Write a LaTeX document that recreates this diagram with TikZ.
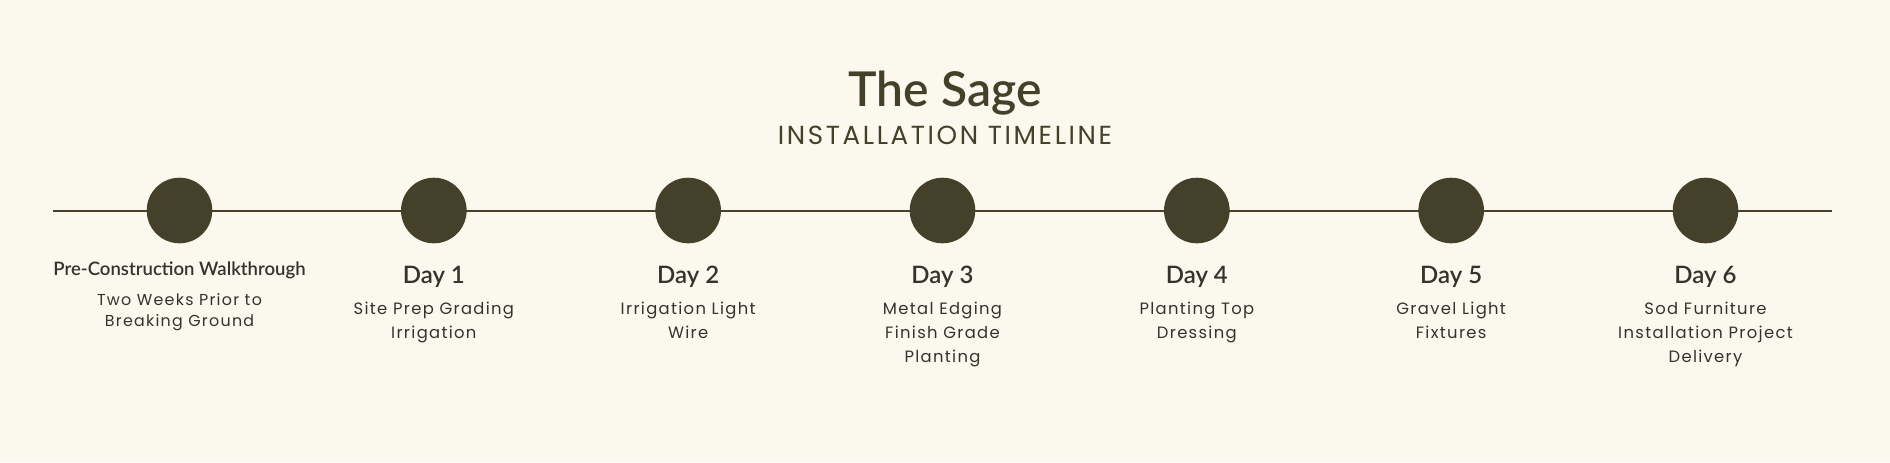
\documentclass[tikz,border=0pt]{standalone}
\usepackage{fontspec}
\usepackage{xcolor}
\usepackage{tikz}
\usetikzlibrary{positioning}

\IfFontExistsTF{Lato Semibold}{\newfontfamily\headfont{Lato Semibold}}{\newfontfamily\headfont{Lato}[UprightFeatures={FakeBold=0.8}]}
\newfontfamily\bodyfont{Poppins}[LetterSpace=8]
\newfontfamily\capsfont{Poppins}[LetterSpace=10]

\definecolor{sagebg}{HTML}{FBF9EE}
\definecolor{sagedark}{HTML}{45402A}
\definecolor{sageink}{HTML}{35332B}

\begin{document}
\begin{tikzpicture}[
    x=0.75pt, y=-0.75pt,
    dot/.style={circle, fill=sagedark, minimum size=49.2pt, inner sep=0pt},
    dayhead/.style={font=\headfont\fontsize{18}{21}\selectfont, text=sageink, inner sep=0pt},
    daytext/.style={font=\bodyfont\fontsize{12.3}{18}\selectfont, text=sageink, align=center, inner sep=0pt},
    timeline/.style={draw=sagedark, line width=1.5pt},
]
\useasboundingbox[fill=sagebg] (0,0) rectangle (1890,462);
\node[font=\headfont\fontsize{36}{40}\selectfont, text=sagedark, inner sep=0pt, anchor=base] (title) at (945,106.7) {The Sage};
\node[font=\capsfont\fontsize{19.6}{22}\selectfont, text=sagedark, inner sep=0pt, below=28.7pt of title.base, anchor=base] (subtitle) {INSTALLATION TIMELINE};
\coordinate (lineL) at (53,211);
\coordinate (lineR) at (1832,211);
\draw[timeline] (lineL) -- (lineR);
\node[dot] (walk) at (179.5,210.5) {};
\node[dot, right=141.15pt of walk] (d1) {};
\node[dot, right=141.15pt of d1] (d2) {};
\node[dot, right=141.15pt of d2] (d3) {};
\node[dot, right=141.15pt of d3] (d4) {};
\node[dot, right=141.15pt of d4] (d5) {};
\node[dot, right=141.15pt of d5] (d6) {};
% multi-line nodes sit on their last line, hence the longer distances
\node[dayhead, font=\headfont\fontsize{13.9}{16}\selectfont, below=23.8pt of walk.south, anchor=base] (walkhead) {Pre-Construction Walkthrough};
\node[daytext, font=\bodyfont\fontsize{11.9}{15.2}\selectfont, below=38.2pt of walkhead.base, anchor=base] (walktext) {Two Weeks Prior to\\Breaking Ground};
\node[dayhead, below=29.8pt of d1.south, anchor=base] (d1head) {Day 1};
\node[daytext, below=41.25pt of d1head.base, anchor=base] (d1text) {Site Prep Grading\\Irrigation};
\node[dayhead, below=29.8pt of d2.south, anchor=base] (d2head) {Day 2};
\node[daytext, below=41.25pt of d2head.base, anchor=base] (d2text) {Irrigation Light\\Wire};
\node[dayhead, below=29.8pt of d3.south, anchor=base] (d3head) {Day 3};
\node[daytext, below=59.25pt of d3head.base, anchor=base] (d3text) {Metal Edging\\Finish Grade\\Planting};
\node[dayhead, below=29.8pt of d4.south, anchor=base] (d4head) {Day 4};
\node[daytext, below=41.25pt of d4head.base, anchor=base] (d4text) {Planting Top\\Dressing};
\node[dayhead, below=29.8pt of d5.south, anchor=base] (d5head) {Day 5};
\node[daytext, below=41.25pt of d5head.base, anchor=base] (d5text) {Gravel Light\\Fixtures};
\node[dayhead, below=29.8pt of d6.south, anchor=base] (d6head) {Day 6};
\node[daytext, below=59.25pt of d6head.base, anchor=base] (d6text) {Sod Furniture\\Installation Project\\Delivery};
\end{tikzpicture}
\end{document}
